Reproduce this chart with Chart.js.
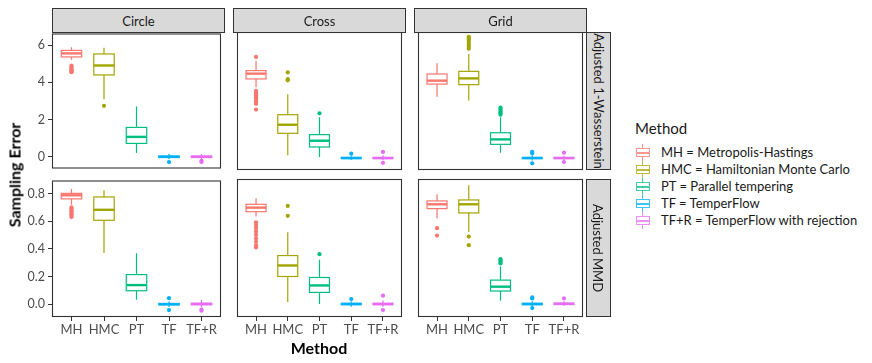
<!DOCTYPE html>
<html lang="en">
<head>
<meta charset="UTF-8">
<title>Sampling Error</title>
<script src="https://cdn.jsdelivr.net/npm/chart.js"></script>
<style>
  body { margin: 0; background: #fff; font-family: Lato, sans-serif; }
  #wrap { position: relative; width: 872px; height: 363px; overflow: hidden; }
  canvas { position: absolute; }
  .strip { position: absolute; background: #D9D9D9; border: 1px solid #333; box-sizing: border-box;
           color: #1A1A1A; font-size: 13px; display: flex; align-items: center; justify-content: center; }
  .vtext { transform: rotate(90deg); white-space: nowrap; }
  .title { position: absolute; font-weight: bold; font-size: 16px; color: #000; white-space: nowrap; }
  .leg { position: absolute; font-size: 13px; color: #1A1A1A; white-space: nowrap; }
  .key { position: absolute; width: 14px; height: 17px; }
  .key .wh { position: absolute; left: 6px; top: 0; width: 1.2px; height: 17px; }
  .key .bx { position: absolute; left: 0; top: 4px; width: 14px; height: 9px; background: #fff; box-sizing: border-box; border: 1.2px solid; }
  .key .md { position: absolute; left: 0; top: 3.5px; width: 12px; height: 1.6px; }
</style>
</head>
<body>
<div id="wrap"></div>

<script>
// categories and labels
const methods = ['MH', 'HMC', 'PT', 'TF', 'TF+R'];
const methodNames = ['MH = Metropolis-Hastings', 'HMC = Hamiltonian Monte Carlo', 'PT = Parallel tempering',
                     'TF = TemperFlow', 'TF+R = TemperFlow with rejection'];
const colors = ['#F8766D', '#A3A500', '#00BF7D', '#00B0F6', '#E76BF3'];
const shapes = ['Circle', 'Cross', 'Grid'];
const metrics = ['Adjusted 1-Wasserstein', 'Adjusted MMD'];
const ticksW1 = [0, 2, 4, 6];
const ticksMMD = [0, 0.2, 0.4, 0.6, 0.8];

// box stats per method: [lower whisker, q1, median, q3, upper whisker]
const w1Circle = [[5.22, 5.37, 5.56, 5.72, 5.89], [3.1, 4.40, 4.91, 5.53, 5.86], [0.21, 0.72, 1.07, 1.58, 2.70],
                  [-0.13, -0.04, 0, 0.04, 0.16], [-0.12, -0.04, 0, 0.04, 0.15]];
const w1CircleOut = [[4.9, 4.84, 4.78, 4.72, 4.66, 4.6, 4.55], [2.74], [], [-0.28], [-0.22, -0.28]];
const w1Cross = [[3.72, 4.16, 4.44, 4.6, 5.12], [0.14, 1.30, 1.75, 2.28, 3.35], [0.05, 0.58, 0.91, 1.23, 2.14],
                 [-0.1, -0.03, 0, 0.03, 0.1], [-0.12, -0.03, 0, 0.03, 0.14]];
const w1CrossOut = [[5.32, 3.54, 3.44, 3.36, 3.28, 3.2, 3.1, 2.98, 2.85, 2.55], [4.51, 4.15, 4.09], [2.35], [0.23], [0.32, -0.25]];
const w1Grid = [[3.23, 3.89, 4.07, 4.42, 4.98], [3.02, 3.86, 4.19, 4.56, 5.47], [0.28, 0.72, 0.98, 1.33, 2.15],
                [-0.13, -0.03, 0, 0.03, 0.14], [-0.1, -0.03, 0, 0.03, 0.12]];
const w1GridOut = [[], [6.38, 6.32, 6.25, 6.15, 6.05, 5.95, 5.85, 5.75], [2.65, 2.58, 2.5, 2.42, 2.35, 2.28],
                   [0.33, 0.25, -0.28], [0.28, -0.21]];
const mmdCircle = [[0.72, 0.762, 0.788, 0.802, 0.833], [0.371, 0.607, 0.683, 0.776, 0.824], [0.031, 0.097, 0.138, 0.214, 0.369],
                   [-0.02, -0.005, 0, 0.005, 0.02], [-0.02, -0.005, 0.002, 0.006, 0.03]];
const mmdCircleOut = [[0.70, 0.69, 0.68, 0.67, 0.66, 0.65, 0.64, 0.63], [], [], [0.043, -0.043], [-0.04, -0.047]];
const mmdCross = [[0.626, 0.661, 0.69, 0.714, 0.757], [0.014, 0.197, 0.276, 0.347, 0.514], [0.0, 0.083, 0.133, 0.19, 0.316],
                  [-0.02, -0.005, 0, 0.005, 0.02], [-0.02, -0.005, 0, 0.005, 0.025]];
const mmdCrossOut = [[0.585, 0.565, 0.545, 0.52, 0.495, 0.47, 0.445, 0.42, 0.405], [0.702, 0.631], [0.357], [0.036], [0.06, -0.043]];
const mmdGrid = [[0.612, 0.683, 0.714, 0.738, 0.786], [0.516, 0.652, 0.714, 0.745, 0.85], [0.024, 0.093, 0.124, 0.171, 0.269],
                 [-0.018, -0.005, 0, 0.005, 0.02], [-0.015, -0.004, 0.002, 0.006, 0.02]];
const mmdGridOut = [[0.543, 0.49], [0.483, 0.421], [0.321, 0.31, 0.3, 0.29], [0.047, 0.04, -0.029], [0.04]];

const panels = [
  [[w1Circle, w1CircleOut], [w1Cross, w1CrossOut], [w1Grid, w1GridOut]],
  [[mmdCircle, mmdCircleOut], [mmdCross, mmdCrossOut], [mmdGrid, mmdGridOut]]
];
const yRanges = [[-0.63, 6.63], [-0.093, 0.895]];
const yTicks = [ticksW1, ticksMMD];

// layout
const colX = [52, 233, 414], panelW = 173;
const rowY = [32, 179], panelH = 138;
const yAxisW = 34, xAxisH = 22, pad = 9;
const boxW = 0.63;

Chart.defaults.font.family = 'Lato';
const wrap = document.getElementById('wrap');

function boxPlugin(stats) {
  return {
    id: 'boxes',
    beforeDatasetsDraw(chart) {
      const { ctx, scales: { x, y } } = chart;
      ctx.save();
      stats.forEach((s, i) => {
        const cx = x.getPixelForValue(i + 1);
        const hw = x.getPixelForValue(i + 1 + boxW / 2) - cx;
        const [lo, q1, md, q3, hi] = s.map(v => y.getPixelForValue(v));
        ctx.strokeStyle = colors[i];
        ctx.lineWidth = 1.2;
        ctx.beginPath();
        ctx.moveTo(cx, hi); ctx.lineTo(cx, q3);
        ctx.moveTo(cx, q1); ctx.lineTo(cx, lo);
        ctx.stroke();
        ctx.fillStyle = '#fff';
        ctx.fillRect(cx - hw, q3, hw * 2, q1 - q3);
        ctx.strokeRect(cx - hw, q3, hw * 2, q1 - q3);
        ctx.lineWidth = 2.4;
        ctx.beginPath();
        ctx.moveTo(cx - hw, md); ctx.lineTo(cx + hw, md);
        ctx.stroke();
      });
      ctx.restore();
    },
    afterDraw(chart) {
      const { ctx, chartArea: a } = chart;
      ctx.save();
      ctx.strokeStyle = '#333';
      ctx.lineWidth = 1.1;
      ctx.strokeRect(a.left + 0.5, a.top + 0.5, a.right - a.left - 1, a.bottom - a.top - 1);
      ctx.restore();
    }
  };
}

function makePanel(r, c) {
  const [stats, outs] = panels[r][c];
  const showY = c === 0, showX = r === 1;
  const cv = document.createElement('canvas');
  const padB = showX ? 0 : pad;
  const w = panelW + (showY ? yAxisW : 0), h = pad + panelH + (showX ? xAxisH : 0) + padB;
  cv.width = w; cv.height = h;
  cv.style.left = (colX[c] - (showY ? yAxisW : 0)) + 'px';
  cv.style.top = (rowY[r] - pad) + 'px';
  wrap.appendChild(cv);

  const datasets = methods.map((m, i) => ({
    label: m,
    data: outs[i].map(v => ({ x: i + 1, y: v })),
    backgroundColor: colors[i],
    borderWidth: 0,
    pointRadius: 2.1
  }));

  new Chart(cv.getContext('2d'), {
    type: 'scatter',
    data: { datasets },
    plugins: [boxPlugin(stats)],
    options: {
      responsive: false,
      animation: false,
      devicePixelRatio: 1,
      layout: { padding: { top: pad, bottom: padB, left: 0, right: 0 } },
      plugins: { legend: { display: false }, tooltip: { enabled: false } },
      scales: {
        x: {
          type: 'linear', min: 0.4, max: 5.6, display: showX,
          afterBuildTicks: s => { s.ticks = methods.map((m, i) => ({ value: i + 1 })); },
          afterFit: s => { if (showX) s.height = xAxisH; },
          ticks: { color: '#4D4D4D', font: { size: 13 }, padding: 1, maxRotation: 0, autoSkip: false,
                   callback: v => methods[v - 1] },
          grid: { drawOnChartArea: false, tickLength: 4, color: '#333' },
          border: { display: false }
        },
        y: {
          min: yRanges[r][0], max: yRanges[r][1], display: showY,
          afterBuildTicks: s => { s.ticks = yTicks[r].map(v => ({ value: v })); },
          afterFit: s => { if (showY) s.width = yAxisW; },
          ticks: { color: '#4D4D4D', font: { size: 12.5 }, padding: 3,
                   callback: v => r === 1 ? v.toFixed(1) : String(v) },
          grid: { drawOnChartArea: false, tickLength: 4, color: '#333' },
          border: { display: false }
        }
      }
    }
  });
}

for (let r = 0; r < 2; r++) for (let c = 0; c < 3; c++) makePanel(r, c);

// facet strips
shapes.forEach((s, c) => {
  const d = document.createElement('div');
  d.className = 'strip';
  Object.assign(d.style, { left: colX[c] + 'px', top: '8px', width: panelW + 'px', height: '25px' });
  d.textContent = s;
  wrap.appendChild(d);
});
metrics.forEach((m, r) => {
  const d = document.createElement('div');
  d.className = 'strip';
  Object.assign(d.style, { left: (colX[2] + panelW - 1) + 'px', top: rowY[r] + 'px', width: '25px', height: panelH + 'px' });
  d.innerHTML = '<span class="vtext"></span>';
  d.firstChild.textContent = m;
  wrap.appendChild(d);
});

// axis titles
const yt = document.createElement('div');
yt.className = 'title';
yt.textContent = 'Sampling Error';
Object.assign(yt.style, { left: '14px', top: '175px', transform: 'translate(-50%, -50%) rotate(-90deg)' });
wrap.appendChild(yt);
const xt = document.createElement('div');
xt.className = 'title';
xt.textContent = 'Method';
Object.assign(xt.style, { left: '319px', top: '347px', transform: 'translate(-50%, -50%)' });
wrap.appendChild(xt);

// legend
const lt = document.createElement('div');
lt.className = 'leg';
lt.textContent = 'Method';
Object.assign(lt.style, { left: '635px', top: '119px', fontSize: '15px' });
wrap.appendChild(lt);
methodNames.forEach((n, i) => {
  const cy = 152 + i * 17;
  const k = document.createElement('div');
  k.className = 'key';
  Object.assign(k.style, { left: '636px', top: (cy - 8.5) + 'px' });
  k.innerHTML = '<div class="wh"></div><div class="bx"><div class="md"></div></div>';
  k.querySelector('.wh').style.background = colors[i];
  k.querySelector('.bx').style.borderColor = colors[i];
  k.querySelector('.md').style.background = colors[i];
  k.style.opacity = 0.75;
  wrap.appendChild(k);
  const t = document.createElement('div');
  t.className = 'leg';
  t.textContent = n;
  Object.assign(t.style, { left: '661px', top: (cy - 8) + 'px' });
  wrap.appendChild(t);
});
</script>
</body>
</html>
